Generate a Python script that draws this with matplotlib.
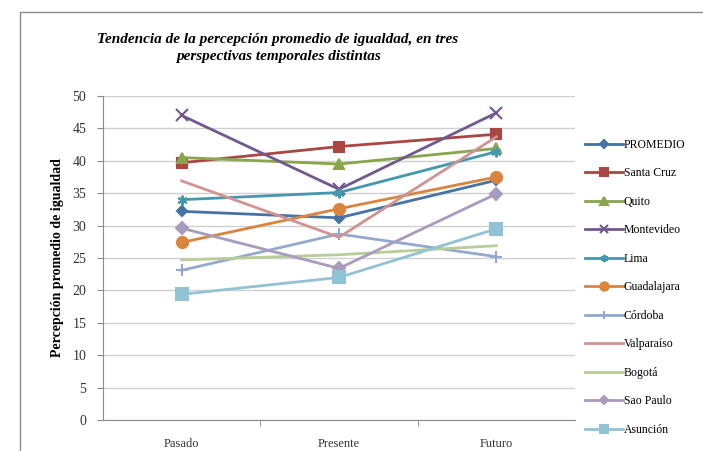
import matplotlib
matplotlib.use("Agg")
import matplotlib.pyplot as plt
from matplotlib.patches import Rectangle

categories = ["Pasado", "Presente", "Futuro"]
series_names = ["PROMEDIO", "Santa Cruz", "Quito", "Montevideo", "Lima",
                "Guadalajara", "Córdoba", "Valparaíso", "Bogotá", "Sao Paulo", "Asunción"]
promedio = [32.2, 31.2, 37.0]
santa_cruz = [39.7, 42.2, 44.1]
quito = [40.5, 39.5, 41.9]
montevideo = [47.0, 35.6, 47.4]
lima = [34.0, 35.1, 41.4]
guadalajara = [27.4, 32.6, 37.5]
cordoba = [23.1, 28.7, 25.2]
valparaiso = [36.9, 28.2, 43.7]
bogota = [24.7, 25.5, 26.9]
sao_paulo = [29.6, 23.4, 34.9]
asuncion = [19.4, 22.0, 29.5]
values = [promedio, santa_cruz, quito, montevideo, lima, guadalajara,
          cordoba, valparaiso, bogota, sao_paulo, asuncion]
y_ticks = [0, 5, 10, 15, 20, 25, 30, 35, 40, 45, 50]

colors = ["#4572A7", "#AA4643", "#89A54E", "#71588F", "#4198AF", "#DB843D",
          "#93A9CF", "#D19392", "#B9CD96", "#A99BBD", "#91C3D5"]
markers = ["D", "s", "^", "x", (6, 2, 0), "o", "+", None, None, "D", "s"]
msizes = [5.5, 7, 7, 8, 7, 8, 8, 0, 0, 6, 8]

SERIF = ["Liberation Serif", "DejaVu Serif"]

fig = plt.figure(figsize=(7.03, 4.51), dpi=100)
fig.patches.append(Rectangle((20 / 703, -0.1), 1.0, 1.1 - 12 / 451,
                             transform=fig.transFigure, fill=False,
                             edgecolor="#8c8c8c", linewidth=1.0))

ax = fig.add_axes([103 / 703, 31 / 451, 472 / 703, 324 / 451])
x = list(range(len(categories)))
for name, vals, c, m, ms in zip(series_names, values, colors, markers, msizes):
    ax.plot(x, vals, color=c, linewidth=2.0, marker=m, markersize=ms,
            markeredgewidth=1.5, label=name, zorder=3)

ax.set_xlim(-0.5, 2.5)
ax.set_ylim(0, 50)
ax.set_yticks(y_ticks)
ax.set_xticks(x)
ax.set_xticklabels(categories, fontfamily=SERIF, fontsize=9, color="#333333")
ax.set_xticks([0.5, 1.5], minor=True)
ax.tick_params(axis="x", which="major", length=0, pad=13)
ax.tick_params(axis="x", which="minor", length=4, color="#8c8c8c", direction="out")
ax.tick_params(axis="y", length=4, color="#8c8c8c", pad=8)
for lab in ax.get_yticklabels():
    lab.set_fontfamily(SERIF)
    lab.set_fontsize(10)
    lab.set_color("#333333")
ax.yaxis.grid(True, color="#d0d0d0", linewidth=1.0)
ax.set_axisbelow(True)
for s in ["top", "right"]:
    ax.spines[s].set_visible(False)
for s in ["left", "bottom"]:
    ax.spines[s].set_color("#8c8c8c")

ax.set_ylabel("Percepción promedio de igualdad", fontfamily=SERIF,
              fontweight="bold", fontsize=10, labelpad=6)

fig.text(278 / 703, 1 - 48 / 451,
         "Tendencia de la percepción promedio de igualdad, en tres\nperspectivas temporales distintas",
         ha="center", va="center", fontfamily=SERIF, fontweight="bold",
         fontstyle="italic", fontsize=11, linespacing=1.35)

leg = fig.legend(loc="upper left", bbox_to_anchor=(580 / 703, 1 - 134 / 451),
                 frameon=False, prop={"family": SERIF, "size": 8.5},
                 labelspacing=1.4, handlelength=3.2, handletextpad=0.1,
                 markerscale=0.75, borderaxespad=0)

fig.savefig("out.png", dpi=100)
